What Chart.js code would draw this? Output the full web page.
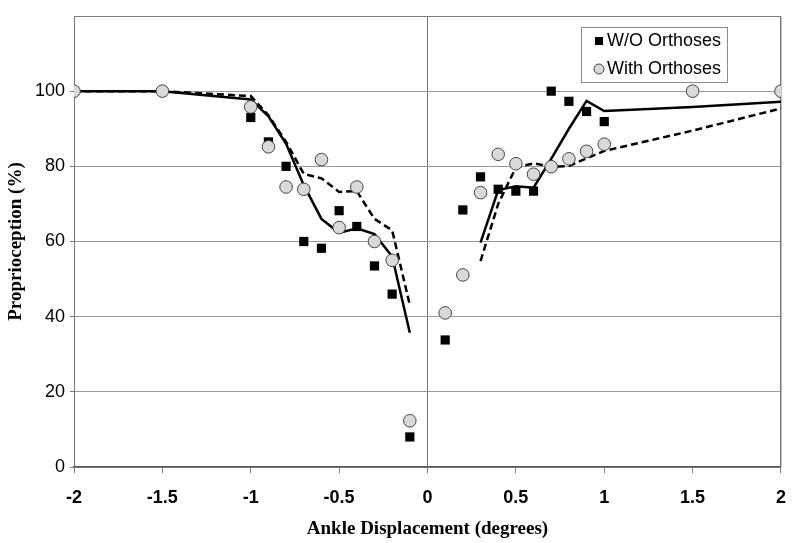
<!DOCTYPE html>
<html>
<head>
<meta charset="utf-8">
<script src="https://cdn.jsdelivr.net/npm/chart.js@4.4.1/dist/chart.umd.min.js"></script>
<style>
  html, body { margin: 0; padding: 0; background: #fff; }
  #wrap { width: 800px; height: 543px; }
</style>
</head>
<body>
<div id="wrap"><canvas id="chart" width="800" height="543"></canvas></div>
<script>
// Data
const pointX = [-2, -1.5, -1, -0.9, -0.8, -0.7, -0.6, -0.5, -0.4, -0.3, -0.2, -0.1,
                0.1, 0.2, 0.3, 0.4, 0.5, 0.6, 0.7, 0.8, 0.9, 1, 1.5, 2];
const withoutOrthoses = [100, 100, 93, 86.5, 80, 60, 58.2, 68.2, 64, 53.5, 46, 8,
                         33.8, 68.4, 77.2, 73.9, 73.4, 73.4, 100, 97.3, 94.6, 91.9, 100, 100];
const withOrthoses = [100, 100, 95.8, 85.2, 74.5, 73.9, 81.8, 63.7, 74.5, 60, 55, 12.3,
                      41, 51.1, 73, 83.2, 80.7, 77.9, 79.9, 82, 84, 85.9, 100, 100];

// trend lines (two segments each)
const trendLeftX = [-2, -1.5, -1, -0.9, -0.8, -0.7, -0.6, -0.5, -0.4, -0.3, -0.2, -0.1];
const trendRightX = [0.3, 0.4, 0.5, 0.6, 0.7, 0.8, 0.9, 1, 1.5, 2];
const trendWithoutLeft = [100, 100, 97.8, 93.3, 86, 75, 66, 62.3, 63.5, 62, 56, 35.7];
const trendWithoutRight = [59.7, 73.7, 74.7, 74.3, 82, 90, 97.4, 94.7, 95.8, 97.2];
const trendWithLeft = [100, 100, 98.7, 93.6, 86.5, 78, 76.8, 73.2, 73.4, 66, 63, 43.1];
const trendWithRight = [54.8, 70, 79.7, 80.8, 79.9, 80.1, 82.1, 84.1, 89.5, 95.4];

const xTicks = [-2, -1.5, -1, -0.5, 0, 0.5, 1, 1.5, 2];

function toPoints(xs, ys) {
  return xs.map((x, i) => ({ x: x, y: ys[i] }));
}
function joinSegments(lx, ly, rx, ry) {
  return toPoints(lx, ly).concat([{ x: 0, y: null }], toPoints(rx, ry));
}

const sansFont = "'Liberation Sans', Arial, sans-serif";
const serifFont = "'Liberation Serif', 'Times New Roman', serif";

// box round the plot area (top and right edges)
const plotFrame = {
  id: 'plotFrame',
  beforeDatasetsDraw(chart) {
    const a = chart.chartArea;
    const ctx = chart.ctx;
    ctx.save();
    ctx.strokeStyle = '#7a7a7a';
    ctx.lineWidth = 1;
    ctx.beginPath();
    ctx.moveTo(a.left, Math.round(a.top) + 0.5);
    ctx.lineTo(a.right, Math.round(a.top) + 0.5);
    ctx.lineTo(a.right, a.bottom);
    ctx.stroke();
    ctx.restore();
  }
};

// legend drawn inside the plot, like the original
const boxLegend = {
  id: 'boxLegend',
  afterDraw(chart) {
    const ctx = chart.ctx;
    const x = 581, y = 27, w = 146, h = 55;
    ctx.save();
    ctx.fillStyle = '#fff';
    ctx.fillRect(x, y, w, h);
    ctx.strokeStyle = '#8a8a8a';
    ctx.lineWidth = 1;
    ctx.strokeRect(x + 0.5, y + 0.5, w, h);

    // square marker
    ctx.fillStyle = '#000';
    ctx.fillRect(595, 37, 8, 8);
    // circle marker
    ctx.beginPath();
    ctx.arc(599, 69, 5, 0, Math.PI * 2);
    ctx.fillStyle = '#d9d9d9';
    ctx.fill();
    ctx.strokeStyle = '#444';
    ctx.stroke();

    ctx.fillStyle = '#000';
    ctx.font = '18px ' + sansFont;
    ctx.textBaseline = 'middle';
    ctx.textAlign = 'left';
    ctx.fillText('W/O Orthoses', 607, 41);
    ctx.fillText('With Orthoses', 607, 69);
    ctx.restore();
  }
};

new Chart(document.getElementById('chart'), {
  type: 'scatter',
  data: {
    datasets: [
      {
        label: 'W/O Orthoses',
        data: toPoints(pointX, withoutOrthoses),
        pointStyle: 'rect',
        pointRadius: 6.5,
        backgroundColor: '#000',
        borderColor: '#000',
        borderWidth: 0,
        order: 2
      },
      {
        label: 'With Orthoses',
        data: toPoints(pointX, withOrthoses),
        pointStyle: 'circle',
        pointRadius: 6.3,
        backgroundColor: '#d9d9d9',
        borderColor: '#444',
        borderWidth: 1,
        order: 1
      },
      {
        label: 'W/O trend',
        data: joinSegments(trendLeftX, trendWithoutLeft, trendRightX, trendWithoutRight),
        showLine: true,
        spanGaps: false,
        pointRadius: 0,
        borderColor: '#000',
        borderWidth: 2.5,
        order: 3
      },
      {
        label: 'With trend',
        data: joinSegments(trendLeftX, trendWithLeft, trendRightX, trendWithRight),
        showLine: true,
        spanGaps: false,
        pointRadius: 0,
        borderColor: '#000',
        borderWidth: 2.5,
        borderDash: [7, 4],
        order: 4
      }
    ]
  },
  options: {
    responsive: false,
    animation: false,
    layout: { padding: { top: 16, right: 16, left: 0, bottom: 0 } },
    plugins: {
      legend: { display: false },
      tooltip: { enabled: false }
    },
    scales: {
      x: {
        type: 'linear',
        min: -2,
        max: 2,
        afterBuildTicks: (scale) => { scale.ticks = xTicks.map(v => ({ value: v })); },
        afterFit: (scale) => { scale.height = 76; },
        ticks: {
          color: '#000',
          font: { family: sansFont, size: 18, weight: 'bold' },
          padding: 14,
          maxRotation: 0,
          callback: (v) => String(v)
        },
        grid: {
          color: (c) => (c.tick && (c.tick.value === 0 || c.tick.value === 2)) ? '#7a7a7a' : 'rgba(0,0,0,0)',
          tickColor: '#7a7a7a',
          tickLength: 6,
          lineWidth: 1
        },
        border: { color: '#555', width: 1.5 },
        title: {
          display: true,
          text: 'Ankle Displacement (degrees)',
          color: '#000',
          font: { family: serifFont, size: 19, weight: 'bold' },
          padding: { top: 0, bottom: 3 }
        }
      },
      y: {
        min: 0,
        max: 120,
        afterFit: (scale) => { scale.width = 74; },
        ticks: {
          stepSize: 20,
          color: '#000',
          font: { family: sansFont, size: 18 },
          padding: 5,
          callback: (v) => (v === 120 ? '' : v)
        },
        grid: {
          color: '#9a9a9a',
          tickColor: (c) => (c.tick && c.tick.value === 120) ? 'rgba(0,0,0,0)' : '#7a7a7a',
          tickLength: 4,
          lineWidth: 1
        },
        border: { color: '#7a7a7a', width: 1 },
        title: {
          display: true,
          text: 'Proprioception (%)',
          color: '#000',
          font: { family: serifFont, size: 19, weight: 'bold' },
          padding: { top: 5, bottom: 0 }
        }
      }
    }
  },
  plugins: [plotFrame, boxLegend]
});
</script>
</body>
</html>
